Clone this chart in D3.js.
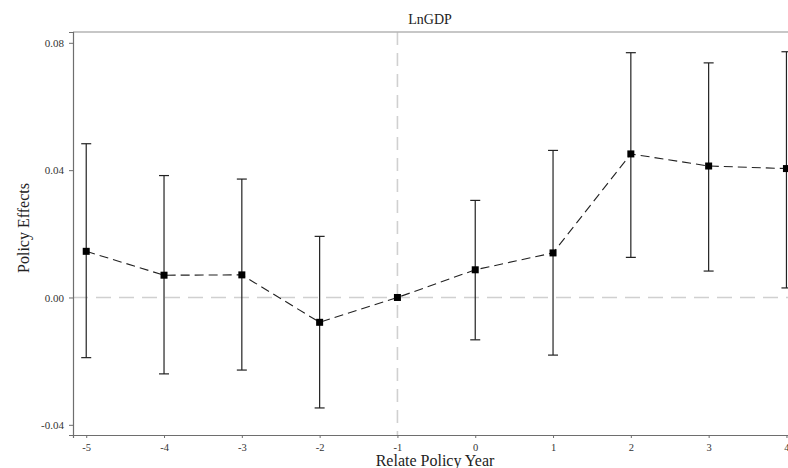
<!DOCTYPE html>
<html>
<head>
<meta charset="utf-8">
<script src="https://cdn.jsdelivr.net/npm/d3@7"></script>
<style>
  body { margin: 0; background: #fff; }
  svg { display: block; }
</style>
</head>
<body>
<div id="chart"></div>
<script>
// event-study estimates
const years = [-5, -4, -3, -2, -1, 0, 1, 2, 3, 4];
const effects = [0.0145, 0.0070, 0.0071, -0.0078, 0, 0.0087, 0.0140, 0.0451, 0.0413, 0.0405];
const ciUpper = [0.0483, 0.0383, 0.0372, 0.0192, null, 0.0305, 0.0462, 0.0769, 0.0737, 0.0772];
const ciLower = [-0.0189, -0.0240, -0.0228, -0.0347, null, -0.0133, -0.0181, 0.0126, 0.0083, 0.0030];
const yTicks = [-0.04, 0.00, 0.04, 0.08];

const width = 788, height = 468;
const margin = {top: 32, right: 0, bottom: 33, left: 73};
const serif = '"Liberation Serif", "DejaVu Serif", serif';

const svg = d3.select('#chart').append('svg')
  .attr('width', width)
  .attr('height', height);

const x = d3.scaleLinear()
  .domain([-5.17, 4.02])
  .range([margin.left, width - margin.right]);

const y = d3.scaleLinear()
  .domain([-0.0432, 0.0834])
  .range([height - margin.bottom, margin.top]);

const rows = years.map((yr, i) => ({yr, est: effects[i], hi: ciUpper[i], lo: ciLower[i]}));

// reference lines
svg.append('line')
  .attr('x1', x(-1)).attr('x2', x(-1))
  .attr('y1', y.range()[1]).attr('y2', y.range()[0])
  .attr('stroke', '#d0d0d0').attr('stroke-width', 1.6)
  .attr('stroke-dasharray', '13,8');

svg.append('line')
  .attr('x1', margin.left).attr('x2', width)
  .attr('y1', y(0)).attr('y2', y(0))
  .attr('stroke', '#d0d0d0').attr('stroke-width', 1.6)
  .attr('stroke-dasharray', '15,8');

// frame: top border
svg.append('line')
  .attr('x1', margin.left).attr('x2', width)
  .attr('y1', margin.top).attr('y2', margin.top)
  .attr('stroke', '#b4b4b4').attr('stroke-width', 1.6);

// y axis
const yAxis = svg.append('g')
  .attr('transform', `translate(${margin.left},0)`)
  .call(d3.axisLeft(y).tickValues(yTicks).tickFormat(d3.format('.2f')).tickSize(4).tickPadding(5));

// x axis
const xAxis = svg.append('g')
  .attr('transform', `translate(0,${height - margin.bottom})`)
  .call(d3.axisBottom(x).tickValues(years).tickFormat(d3.format('d')).tickSize(3).tickPadding(6));

[yAxis, xAxis].forEach(g => {
  g.attr('font-family', null).attr('font-size', null);
  g.select('.domain').attr('stroke', '#6e6e6e').attr('stroke-width', 1.2);
  g.selectAll('.tick line').attr('stroke', '#6e6e6e');
  g.selectAll('.tick text')
    .style('font-family', serif)
    .style('font-size', '10.5px')
    .attr('fill', '#333');
});
yAxis.selectAll('.tick text').style('font-size', '11px').text(d => d3.format('.2f')(d).replace('−', '-'));
xAxis.selectAll('.tick text').text(d => String(d));

// error bars
const bars = svg.append('g')
  .selectAll('g')
  .data(rows.filter(d => d.hi != null))
  .join('g')
  .attr('stroke', '#222')
  .attr('stroke-width', 1.2);

bars.append('line')
  .attr('x1', d => x(d.yr)).attr('x2', d => x(d.yr))
  .attr('y1', d => y(d.hi)).attr('y2', d => y(d.lo));

bars.append('line')
  .attr('x1', d => x(d.yr) - 5).attr('x2', d => x(d.yr) + 5)
  .attr('y1', d => y(d.hi)).attr('y2', d => y(d.hi));

bars.append('line')
  .attr('x1', d => x(d.yr) - 5).attr('x2', d => x(d.yr) + 5)
  .attr('y1', d => y(d.lo)).attr('y2', d => y(d.lo));

// dashed connecting line
const line = d3.line()
  .x(d => x(d.yr))
  .y(d => y(d.est));

svg.append('path')
  .datum(rows)
  .attr('fill', 'none')
  .attr('stroke', '#222')
  .attr('stroke-width', 1.1)
  .attr('stroke-dasharray', '9,5')
  .attr('d', line);

// point markers
svg.append('g')
  .selectAll('rect')
  .data(rows)
  .join('rect')
  .attr('x', d => x(d.yr) - 3.5)
  .attr('y', d => y(d.est) - 3.5)
  .attr('width', 7)
  .attr('height', 7)
  .attr('fill', '#000');

// titles
svg.append('text')
  .attr('x', 430).attr('y', 24)
  .attr('text-anchor', 'middle')
  .style('font-family', serif)
  .style('font-size', '14px')
  .attr('fill', '#222')
  .text('LnGDP');

svg.append('text')
  .attr('x', 435).attr('y', 466)
  .attr('text-anchor', 'middle')
  .style('font-family', serif)
  .style('font-size', '16px')
  .attr('fill', '#222')
  .text('Relate Policy Year');

svg.append('text')
  .attr('transform', 'translate(29,228) rotate(-90)')
  .attr('text-anchor', 'middle')
  .style('font-family', serif)
  .style('font-size', '16px')
  .attr('fill', '#222')
  .text('Policy Effects');
</script>
</body>
</html>
